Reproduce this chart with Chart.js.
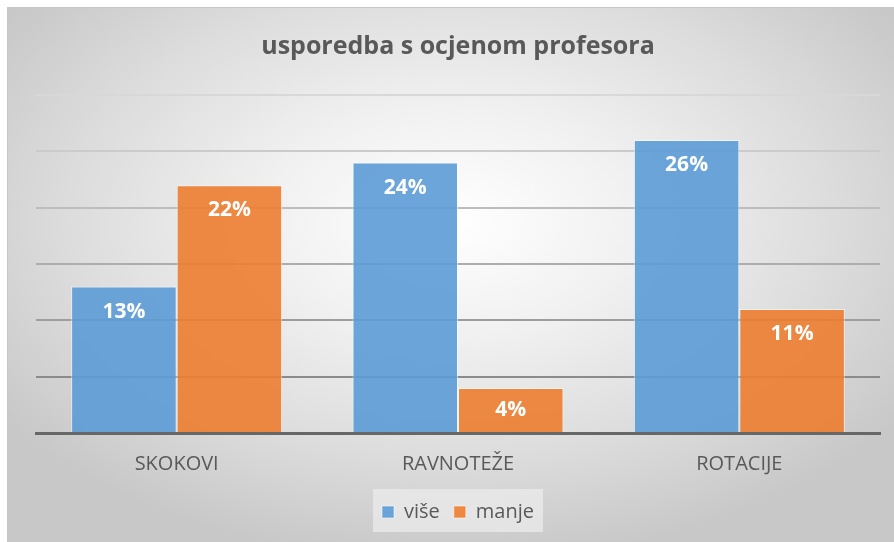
<!DOCTYPE html>
<html>
<head>
<meta charset="utf-8">
<script src="https://cdn.jsdelivr.net/npm/chart.js@4.4.1/dist/chart.umd.min.js"></script>
<style>
html,body{margin:0;padding:0;background:#fff;}
#wrap{position:relative;width:894px;height:542px;}
</style>
</head>
<body>
<div id="wrap"><canvas id="c" width="894" height="542"></canvas></div>
<script>
const titleText = 'usporedba s ocjenom profesora';
const categories = ['SKOKOVI', 'RAVNOTEŽE', 'ROTACIJE'];
const seriesNames = ['više', 'manje'];
const viseValues = [13, 24, 26];
const manjeValues = [22, 4, 11];
const yMax = 30;
const yStep = 5;

const FONT = "'Open Sans', sans-serif";
const TEXT = '#595959';

const gridColors = {30:'#d8d8d8',25:'#cbcbcb',20:'#bdbdbd',15:'#adadad',10:'#9d9d9d',5:'#8b8b8b',0:'rgba(0,0,0,0)'};

const bgPlugin = {
  id: 'bg',
  beforeDraw(chart) {
    const ctx = chart.ctx;
    const x0 = 8, y0 = 8, w = chart.width - x0, h = chart.height - y0;
    ctx.save();
    ctx.fillStyle = '#ffffff';
    ctx.fillRect(0, 0, chart.width, chart.height);
    ctx.fillStyle = '#c6c6c6';
    ctx.fillRect(x0 - 1, y0 - 1, w + 1, h + 1);
    ctx.beginPath();
    ctx.rect(x0, y0, w, h);
    ctx.clip();
    const cx = x0 + w / 2, cy = y0 + h * 0.4;
    ctx.translate(cx, cy);
    ctx.scale(1, 0.62);
    const r = w * 0.62;
    const g = ctx.createRadialGradient(0, 0, 0, 0, 0, r);
    g.addColorStop(0, '#ffffff');
    g.addColorStop(0.35, '#f0f0f0');
    g.addColorStop(0.7, '#dcdcdc');
    g.addColorStop(1, '#c8c8c8');
    ctx.fillStyle = g;
    ctx.fillRect(-r * 1.2, -r * 1.7, r * 2.4, r * 3.4);
    ctx.restore();
    ctx.save();
    ctx.fillStyle = 'rgba(235,235,235,0.75)';
    ctx.fillRect(373, 489, 170, 43);
    ctx.restore();
  }
};

const labelPlugin = {
  id: 'vals',
  afterDatasetsDraw(chart) {
    const ctx = chart.ctx;
    ctx.save();
    ctx.fillStyle = '#ffffff';
    ctx.font = "bold 21px " + FONT;
    ctx.textAlign = 'center';
    ctx.textBaseline = 'middle';
    chart.data.datasets.forEach((ds, di) => {
      const meta = chart.getDatasetMeta(di);
      meta.data.forEach((bar, i) => {
        const v = ds.data[i];
        const off = Math.min(25, (bar.base - bar.y) / 2);
        ctx.fillText(v + '%', bar.x, bar.y + off);
      });
    });
    ctx.restore();
  }
};

new Chart(document.getElementById('c'), {
  type: 'bar',
  data: {
    labels: categories,
    datasets: [
      { label: seriesNames[0], data: viseValues, backgroundColor: 'rgba(91,155,213,0.9)', borderColor: 'rgba(255,255,255,0.55)', borderWidth: 1 },
      { label: seriesNames[1], data: manjeValues, backgroundColor: 'rgba(237,125,49,0.9)', borderColor: 'rgba(255,255,255,0.55)', borderWidth: 1 }
    ]
  },
  options: {
    responsive: false,
    animation: false,
    devicePixelRatio: 1,
    layout: { padding: { left: 36, right: 14, top: 0, bottom: 10 } },
    datasets: { bar: { categoryPercentage: 0.75, barPercentage: 1.0 } },
    plugins: {
      title: {
        display: true, text: titleText, color: TEXT,
        font: { family: FONT, size: 25, weight: 'bold', lineHeight: 1.2 },
        padding: { top: 32, bottom: 33 }
      },
      legend: {
        display: true, position: 'bottom',
        labels: {
          color: TEXT, boxWidth: 12, boxHeight: 12, padding: 14,
          font: { family: FONT, size: 20 }
        }
      },
      tooltip: { enabled: false }
    },
    scales: {
      x: {
        grid: { display: false, drawTicks: false },
        border: { display: true, color: '#676767', width: 3 },
        ticks: { color: TEXT, font: { family: FONT, size: 20 }, padding: 19 },
        afterFit(scale) { scale.height -= 7; }
      },
      y: {
        min: 0, max: yMax,
        ticks: { display: false, stepSize: yStep },
        grid: { drawTicks: false, lineWidth: 2, color: (c) => gridColors[c.tick ? c.tick.value : 0] || '#bbbbbb' },
        border: { display: false }
      }
    }
  },
  plugins: [bgPlugin, labelPlugin]
});
</script>
</body>
</html>
